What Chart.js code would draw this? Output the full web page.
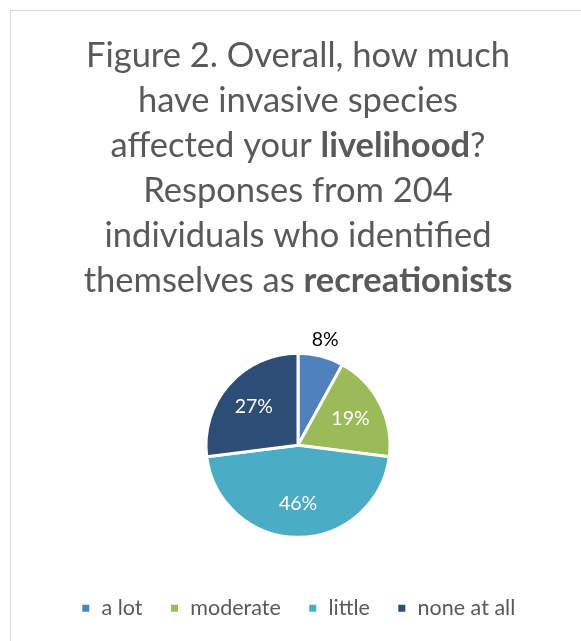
<!DOCTYPE html>
<html>
<head>
<meta charset="utf-8">
<script src="https://cdn.jsdelivr.net/npm/chart.js@4.4.0/dist/chart.umd.min.js"></script>
<style>
  html, body { margin: 0; padding: 0; background: #fff; }
  #wrap { position: relative; width: 581px; height: 641px; overflow: hidden; }
  #frame { position: absolute; left: 10px; top: 10px; width: 640px; height: 700px; border: 1px solid #d9d9d9; box-sizing: border-box; }
  canvas { position: absolute; left: 0; top: 0; }
</style>
</head>
<body>
<div id="wrap">
  <div id="frame"></div>
  <canvas id="pieChart" width="581" height="641"></canvas>
</div>
<script>
  const categories = ['a lot', 'moderate', 'little', 'none at all'];
  const shares = [8, 19, 46, 27];
  const sliceColors = ['#4F81BD', '#9BBB59', '#4BACC6', '#2C4D75'];

  // title lines, each a list of [text, bold]
  const titleLines = [
    [['Figure 2. Overall, how much', false]],
    [['have invasive species', false]],
    [['affected your ', false], ['livelihood', true], ['?', false]],
    [['Responses from 204', false]],
    [['individuals who identified', false]],
    [['themselves as ', false], ['recreationists', true]]
  ];

  const FONT = 'Lato, "Open Sans", sans-serif';
  const GREY = '#595959';

  const titlePlugin = {
    id: 'richTitle',
    afterDraw(chart) {
      const ctx = chart.ctx;
      const cx = 298;
      const firstBase = 67;
      const step = 45;
      ctx.save();
      ctx.fillStyle = GREY;
      ctx.textBaseline = 'alphabetic';
      ctx.textAlign = 'left';
      titleLines.forEach((line, i) => {
        let total = 0;
        line.forEach(([t, b]) => {
          ctx.font = (b ? 'bold ' : '') + '34.5px ' + FONT;
          total += ctx.measureText(t).width;
        });
        let x = cx - total / 2;
        line.forEach(([t, b]) => {
          ctx.font = (b ? 'bold ' : '') + '34.5px ' + FONT;
          ctx.fillText(t, x, firstBase + i * step);
          x += ctx.measureText(t).width;
        });
      });
      ctx.restore();
    }
  };

  const labelPlugin = {
    id: 'sliceLabels',
    afterDatasetsDraw(chart) {
      const ctx = chart.ctx;
      const meta = chart.getDatasetMeta(0);
      ctx.save();
      ctx.font = '19.5px ' + FONT;
      ctx.textAlign = 'center';
      ctx.textBaseline = 'middle';
      meta.data.forEach((arc, i) => {
        const p = arc.getProps(['x', 'y', 'startAngle', 'endAngle', 'outerRadius']);
        const mid = (p.startAngle + p.endAngle) / 2;
        const outside = shares[i] < 10;
        const r = outside ? p.outerRadius + 17 : p.outerRadius * 0.64;
        ctx.fillStyle = outside ? '#000000' : '#ffffff';
        ctx.fillText(shares[i] + '%', p.x + Math.cos(mid) * r, p.y + Math.sin(mid) * r);
      });
      ctx.restore();
    }
  };

  const ctx1 = document.getElementById('pieChart').getContext('2d');
  const pieChart = new Chart(ctx1, {
    type: 'pie',
    data: {
      labels: categories,
      datasets: [{
        data: shares,
        backgroundColor: sliceColors,
        borderColor: '#ffffff',
        borderWidth: 3,
        radius: 92
      }]
    },
    options: {
      responsive: false,
      animation: false,
      layout: { padding: { top: 320, left: 15, right: 0, bottom: 12 } },
      plugins: {
        title: { display: false },
        tooltip: { enabled: false },
        legend: {
          position: 'bottom',
          labels: {
            usePointStyle: true,
            pointStyle: 'rect',
            boxWidth: 10,
            boxHeight: 10,
            padding: 27,
            color: GREY,
            font: { family: FONT, size: 21.5 }
          }
        }
      }
    },
    plugins: [titlePlugin, labelPlugin]
  });
</script>
</body>
</html>
